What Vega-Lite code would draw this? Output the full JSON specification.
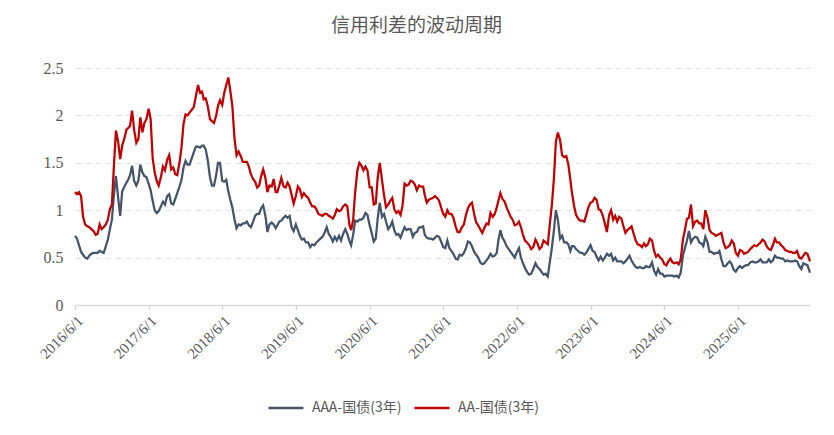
{
  "$schema": "https://vega.github.io/schema/vega-lite/v6.json",
  "width": 735,
  "height": 237,
  "autosize": {"type": "none"},
  "padding": {"left": 75, "top": 68, "right": 24, "bottom": 130},
  "background": "white",
  "title": {"text": "信用利差的波动周期", "font": "Noto Sans CJK SC", "fontSize": 19, "fontWeight": "normal", "color": "#595959", "anchor": "middle", "dx": -26, "offset": 24},
  "data": {
    "format": {"parse": {"d": "date:'%Y-%m-%d'"}},
    "values": [
      {"d":"2016-06-01","AAA":0.73,"AA":1.19},{"d":"2016-06-11","AAA":0.70,"AA":1.17},{"d":"2016-06-21","AAA":0.63,"AA":1.19},
      {"d":"2016-07-01","AAA":0.56,"AA":1.15},{"d":"2016-07-11","AAA":0.53,"AA":0.93},{"d":"2016-07-21","AAA":0.50,"AA":0.85},
      {"d":"2016-08-01","AAA":0.49,"AA":0.83},{"d":"2016-08-11","AAA":0.52,"AA":0.82},{"d":"2016-08-21","AAA":0.54,"AA":0.80},
      {"d":"2016-09-01","AAA":0.55,"AA":0.78},{"d":"2016-09-11","AAA":0.55,"AA":0.74},{"d":"2016-09-21","AAA":0.55,"AA":0.75},
      {"d":"2016-10-01","AAA":0.57,"AA":0.85},{"d":"2016-10-11","AAA":0.56,"AA":0.80},{"d":"2016-10-21","AAA":0.55,"AA":0.82},
      {"d":"2016-11-01","AAA":0.62,"AA":0.85},{"d":"2016-11-11","AAA":0.69,"AA":0.90},{"d":"2016-11-21","AAA":0.80,"AA":1.01},
      {"d":"2016-12-01","AAA":0.90,"AA":1.06},{"d":"2016-12-11","AAA":1.16,"AA":1.47},{"d":"2016-12-21","AAA":1.36,"AA":1.84},
      {"d":"2017-01-01","AAA":1.13,"AA":1.72},{"d":"2017-01-11","AAA":0.94,"AA":1.54},{"d":"2017-01-21","AAA":1.20,"AA":1.68},
      {"d":"2017-02-01","AAA":1.25,"AA":1.76},{"d":"2017-02-11","AAA":1.29,"AA":1.85},{"d":"2017-02-21","AAA":1.33,"AA":1.87},
      {"d":"2017-03-01","AAA":1.37,"AA":1.89},{"d":"2017-03-11","AAA":1.47,"AA":2.05},{"d":"2017-03-21","AAA":1.31,"AA":1.85},
      {"d":"2017-04-01","AAA":1.26,"AA":1.71},{"d":"2017-04-11","AAA":1.31,"AA":1.75},{"d":"2017-04-21","AAA":1.48,"AA":1.98},
      {"d":"2017-05-01","AAA":1.40,"AA":1.82},{"d":"2017-05-11","AAA":1.36,"AA":1.92},{"d":"2017-05-21","AAA":1.35,"AA":1.96},
      {"d":"2017-06-01","AAA":1.28,"AA":2.07},{"d":"2017-06-11","AAA":1.21,"AA":1.96},{"d":"2017-06-21","AAA":1.10,"AA":1.55},
      {"d":"2017-07-01","AAA":1.00,"AA":1.40},{"d":"2017-07-11","AAA":0.97,"AA":1.31},{"d":"2017-07-21","AAA":0.99,"AA":1.26},
      {"d":"2017-08-01","AAA":1.04,"AA":1.35},{"d":"2017-08-11","AAA":1.09,"AA":1.46},{"d":"2017-08-21","AAA":1.06,"AA":1.42},
      {"d":"2017-09-01","AAA":1.15,"AA":1.53},{"d":"2017-09-11","AAA":1.17,"AA":1.58},{"d":"2017-09-21","AAA":1.07,"AA":1.43},
      {"d":"2017-10-01","AAA":1.06,"AA":1.45},{"d":"2017-10-11","AAA":1.12,"AA":1.38},{"d":"2017-10-21","AAA":1.18,"AA":1.37},
      {"d":"2017-11-01","AAA":1.25,"AA":1.50},{"d":"2017-11-11","AAA":1.32,"AA":1.66},{"d":"2017-11-21","AAA":1.45,"AA":1.91},
      {"d":"2017-12-01","AAA":1.52,"AA":2.01},{"d":"2017-12-11","AAA":1.48,"AA":2.00},{"d":"2017-12-21","AAA":1.48,"AA":2.03},
      {"d":"2018-01-01","AAA":1.55,"AA":2.06},{"d":"2018-01-11","AAA":1.61,"AA":2.09},{"d":"2018-01-21","AAA":1.67,"AA":2.20},
      {"d":"2018-02-01","AAA":1.67,"AA":2.32},{"d":"2018-02-11","AAA":1.66,"AA":2.24},{"d":"2018-02-21","AAA":1.68,"AA":2.25},
      {"d":"2018-03-01","AAA":1.68,"AA":2.17},{"d":"2018-03-11","AAA":1.64,"AA":2.18},{"d":"2018-03-21","AAA":1.53,"AA":2.10},
      {"d":"2018-04-01","AAA":1.35,"AA":1.96},{"d":"2018-04-11","AAA":1.26,"AA":1.94},{"d":"2018-04-21","AAA":1.26,"AA":1.92},
      {"d":"2018-05-01","AAA":1.36,"AA":1.99},{"d":"2018-05-11","AAA":1.50,"AA":2.10},{"d":"2018-05-21","AAA":1.50,"AA":2.16},
      {"d":"2018-06-01","AAA":1.31,"AA":2.11},{"d":"2018-06-11","AAA":1.30,"AA":2.24},{"d":"2018-06-21","AAA":1.32,"AA":2.32},
      {"d":"2018-07-01","AAA":1.20,"AA":2.40},{"d":"2018-07-11","AAA":1.11,"AA":2.26},{"d":"2018-07-21","AAA":1.03,"AA":2.10},
      {"d":"2018-08-01","AAA":0.90,"AA":1.75},{"d":"2018-08-11","AAA":0.81,"AA":1.58},{"d":"2018-08-21","AAA":0.85,"AA":1.62},
      {"d":"2018-09-01","AAA":0.84,"AA":1.57},{"d":"2018-09-11","AAA":0.86,"AA":1.51},{"d":"2018-09-21","AAA":0.86,"AA":1.51},
      {"d":"2018-10-01","AAA":0.88,"AA":1.51},{"d":"2018-10-11","AAA":0.84,"AA":1.46},{"d":"2018-10-21","AAA":0.82,"AA":1.38},
      {"d":"2018-11-01","AAA":0.88,"AA":1.33},{"d":"2018-11-11","AAA":0.94,"AA":1.30},{"d":"2018-11-21","AAA":0.96,"AA":1.24},
      {"d":"2018-12-01","AAA":0.96,"AA":1.26},{"d":"2018-12-11","AAA":1.02,"AA":1.36},{"d":"2018-12-21","AAA":1.05,"AA":1.43},
      {"d":"2019-01-01","AAA":0.94,"AA":1.34},{"d":"2019-01-11","AAA":0.77,"AA":1.19},{"d":"2019-01-21","AAA":0.85,"AA":1.26},
      {"d":"2019-02-01","AAA":0.87,"AA":1.25},{"d":"2019-02-11","AAA":0.85,"AA":1.33},{"d":"2019-02-21","AAA":0.81,"AA":1.19},
      {"d":"2019-03-01","AAA":0.84,"AA":1.19},{"d":"2019-03-11","AAA":0.88,"AA":1.26},{"d":"2019-03-21","AAA":0.89,"AA":1.34},
      {"d":"2019-04-01","AAA":0.92,"AA":1.25},{"d":"2019-04-11","AAA":0.94,"AA":1.24},{"d":"2019-04-21","AAA":0.92,"AA":1.29},
      {"d":"2019-05-01","AAA":0.94,"AA":1.25},{"d":"2019-05-11","AAA":0.82,"AA":1.16},{"d":"2019-05-21","AAA":0.78,"AA":1.07},
      {"d":"2019-06-01","AAA":0.85,"AA":1.15},{"d":"2019-06-11","AAA":0.79,"AA":1.25},{"d":"2019-06-21","AAA":0.73,"AA":1.22},
      {"d":"2019-07-01","AAA":0.69,"AA":1.14},{"d":"2019-07-11","AAA":0.70,"AA":1.18},{"d":"2019-07-21","AAA":0.66,"AA":1.15},
      {"d":"2019-08-01","AAA":0.66,"AA":1.13},{"d":"2019-08-11","AAA":0.61,"AA":1.08},{"d":"2019-08-21","AAA":0.64,"AA":1.04},
      {"d":"2019-09-01","AAA":0.63,"AA":1.04},{"d":"2019-09-11","AAA":0.66,"AA":1.01},{"d":"2019-09-21","AAA":0.68,"AA":0.96},
      {"d":"2019-10-01","AAA":0.70,"AA":0.95},{"d":"2019-10-11","AAA":0.72,"AA":0.94},{"d":"2019-10-21","AAA":0.76,"AA":0.96},
      {"d":"2019-11-01","AAA":0.82,"AA":0.96},{"d":"2019-11-11","AAA":0.75,"AA":0.94},{"d":"2019-11-21","AAA":0.72,"AA":0.93},
      {"d":"2019-12-01","AAA":0.67,"AA":0.91},{"d":"2019-12-11","AAA":0.72,"AA":0.95},{"d":"2019-12-21","AAA":0.68,"AA":1.01},
      {"d":"2020-01-01","AAA":0.73,"AA":0.99},{"d":"2020-01-11","AAA":0.68,"AA":1.00},{"d":"2020-01-21","AAA":0.75,"AA":1.04},
      {"d":"2020-02-01","AAA":0.80,"AA":1.06},{"d":"2020-02-11","AAA":0.75,"AA":1.04},{"d":"2020-02-21","AAA":0.68,"AA":0.85},
      {"d":"2020-03-01","AAA":0.63,"AA":0.79},{"d":"2020-03-11","AAA":0.74,"AA":0.90},{"d":"2020-03-21","AAA":0.89,"AA":1.19},
      {"d":"2020-04-01","AAA":0.88,"AA":1.42},{"d":"2020-04-11","AAA":0.90,"AA":1.50},{"d":"2020-04-21","AAA":0.90,"AA":1.47},
      {"d":"2020-05-01","AAA":0.92,"AA":1.42},{"d":"2020-05-11","AAA":0.97,"AA":1.46},{"d":"2020-05-21","AAA":0.95,"AA":1.42},
      {"d":"2020-06-01","AAA":0.84,"AA":1.24},{"d":"2020-06-11","AAA":0.76,"AA":1.24},{"d":"2020-06-21","AAA":0.67,"AA":1.06},
      {"d":"2020-07-01","AAA":0.70,"AA":1.07},{"d":"2020-07-11","AAA":0.92,"AA":1.35},{"d":"2020-07-21","AAA":1.08,"AA":1.50},
      {"d":"2020-08-01","AAA":0.93,"AA":1.32},{"d":"2020-08-11","AAA":0.96,"AA":1.16},{"d":"2020-08-21","AAA":0.88,"AA":1.03},
      {"d":"2020-09-01","AAA":0.80,"AA":1.06},{"d":"2020-09-11","AAA":0.83,"AA":1.10},{"d":"2020-09-21","AAA":0.88,"AA":1.13},
      {"d":"2020-10-01","AAA":0.79,"AA":1.01},{"d":"2020-10-11","AAA":0.74,"AA":0.97},{"d":"2020-10-21","AAA":0.75,"AA":0.99},
      {"d":"2020-11-01","AAA":0.71,"AA":0.95},{"d":"2020-11-11","AAA":0.77,"AA":1.05},{"d":"2020-11-21","AAA":0.82,"AA":1.28},
      {"d":"2020-12-01","AAA":0.79,"AA":1.26},{"d":"2020-12-11","AAA":0.80,"AA":1.27},{"d":"2020-12-21","AAA":0.80,"AA":1.31},
      {"d":"2021-01-01","AAA":0.72,"AA":1.30},{"d":"2021-01-11","AAA":0.76,"AA":1.27},{"d":"2021-01-21","AAA":0.77,"AA":1.21},
      {"d":"2021-02-01","AAA":0.82,"AA":1.26},{"d":"2021-02-11","AAA":0.82,"AA":1.25},{"d":"2021-02-21","AAA":0.83,"AA":1.25},
      {"d":"2021-03-01","AAA":0.74,"AA":1.16},{"d":"2021-03-11","AAA":0.71,"AA":1.08},{"d":"2021-03-21","AAA":0.70,"AA":1.11},
      {"d":"2021-04-01","AAA":0.70,"AA":1.12},{"d":"2021-04-11","AAA":0.69,"AA":1.13},{"d":"2021-04-21","AAA":0.71,"AA":1.15},
      {"d":"2021-05-01","AAA":0.73,"AA":1.13},{"d":"2021-05-11","AAA":0.72,"AA":1.10},{"d":"2021-05-21","AAA":0.67,"AA":1.03},
      {"d":"2021-06-01","AAA":0.61,"AA":0.96},{"d":"2021-06-11","AAA":0.60,"AA":0.93},{"d":"2021-06-21","AAA":0.68,"AA":1.00},
      {"d":"2021-07-01","AAA":0.60,"AA":0.96},{"d":"2021-07-11","AAA":0.57,"AA":0.96},{"d":"2021-07-21","AAA":0.54,"AA":0.92},
      {"d":"2021-08-01","AAA":0.49,"AA":0.83},{"d":"2021-08-11","AAA":0.48,"AA":0.77},{"d":"2021-08-21","AAA":0.53,"AA":0.77},
      {"d":"2021-09-01","AAA":0.52,"AA":0.82},{"d":"2021-09-11","AAA":0.55,"AA":0.85},{"d":"2021-09-21","AAA":0.60,"AA":0.95},
      {"d":"2021-10-01","AAA":0.67,"AA":1.02},{"d":"2021-10-11","AAA":0.66,"AA":1.06},{"d":"2021-10-21","AAA":0.62,"AA":1.08},
      {"d":"2021-11-01","AAA":0.56,"AA":0.96},{"d":"2021-11-11","AAA":0.53,"AA":0.87},{"d":"2021-11-21","AAA":0.50,"AA":0.84},
      {"d":"2021-12-01","AAA":0.45,"AA":0.80},{"d":"2021-12-11","AAA":0.43,"AA":0.76},{"d":"2021-12-21","AAA":0.44,"AA":0.81},
      {"d":"2022-01-01","AAA":0.47,"AA":0.86},{"d":"2022-01-11","AAA":0.50,"AA":0.85},{"d":"2022-01-21","AAA":0.54,"AA":0.97},
      {"d":"2022-02-01","AAA":0.51,"AA":0.93},{"d":"2022-02-11","AAA":0.52,"AA":0.96},{"d":"2022-02-21","AAA":0.55,"AA":1.03},
      {"d":"2022-03-01","AAA":0.68,"AA":1.10},{"d":"2022-03-11","AAA":0.79,"AA":1.18},{"d":"2022-03-21","AAA":0.71,"AA":1.12},
      {"d":"2022-04-01","AAA":0.67,"AA":1.09},{"d":"2022-04-11","AAA":0.62,"AA":1.03},{"d":"2022-04-21","AAA":0.59,"AA":0.98},
      {"d":"2022-05-01","AAA":0.56,"AA":0.93},{"d":"2022-05-11","AAA":0.53,"AA":0.90},{"d":"2022-05-21","AAA":0.50,"AA":0.84},
      {"d":"2022-06-01","AAA":0.56,"AA":0.85},{"d":"2022-06-11","AAA":0.60,"AA":0.88},{"d":"2022-06-21","AAA":0.50,"AA":0.82},
      {"d":"2022-07-01","AAA":0.44,"AA":0.74},{"d":"2022-07-11","AAA":0.39,"AA":0.68},{"d":"2022-07-21","AAA":0.35,"AA":0.66},
      {"d":"2022-08-01","AAA":0.32,"AA":0.63},{"d":"2022-08-11","AAA":0.33,"AA":0.59},{"d":"2022-08-21","AAA":0.38,"AA":0.61},
      {"d":"2022-09-01","AAA":0.44,"AA":0.69},{"d":"2022-09-11","AAA":0.40,"AA":0.65},{"d":"2022-09-21","AAA":0.38,"AA":0.59},
      {"d":"2022-10-01","AAA":0.35,"AA":0.61},{"d":"2022-10-11","AAA":0.32,"AA":0.68},{"d":"2022-10-21","AAA":0.33,"AA":0.66},
      {"d":"2022-11-01","AAA":0.30,"AA":0.64},{"d":"2022-11-11","AAA":0.45,"AA":0.85},{"d":"2022-11-21","AAA":0.60,"AA":1.05},
      {"d":"2022-12-01","AAA":0.78,"AA":1.32},{"d":"2022-12-11","AAA":1.00,"AA":1.72},{"d":"2022-12-21","AAA":0.90,"AA":1.82},
      {"d":"2023-01-01","AAA":0.70,"AA":1.74},{"d":"2023-01-11","AAA":0.73,"AA":1.58},{"d":"2023-01-21","AAA":0.66,"AA":1.56},
      {"d":"2023-02-01","AAA":0.66,"AA":1.57},{"d":"2023-02-11","AAA":0.64,"AA":1.48},{"d":"2023-02-21","AAA":0.57,"AA":1.32},
      {"d":"2023-03-01","AAA":0.62,"AA":1.18},{"d":"2023-03-11","AAA":0.62,"AA":1.05},{"d":"2023-03-21","AAA":0.59,"AA":0.95},
      {"d":"2023-04-01","AAA":0.57,"AA":0.91},{"d":"2023-04-11","AAA":0.55,"AA":0.89},{"d":"2023-04-21","AAA":0.55,"AA":0.89},
      {"d":"2023-05-01","AAA":0.53,"AA":0.88},{"d":"2023-05-11","AAA":0.55,"AA":0.95},{"d":"2023-05-21","AAA":0.59,"AA":1.03},
      {"d":"2023-06-01","AAA":0.63,"AA":1.08},{"d":"2023-06-11","AAA":0.57,"AA":1.09},{"d":"2023-06-21","AAA":0.56,"AA":1.13},
      {"d":"2023-07-01","AAA":0.51,"AA":1.11},{"d":"2023-07-11","AAA":0.47,"AA":1.01},{"d":"2023-07-21","AAA":0.51,"AA":1.00},
      {"d":"2023-08-01","AAA":0.47,"AA":0.94},{"d":"2023-08-11","AAA":0.50,"AA":0.86},{"d":"2023-08-21","AAA":0.54,"AA":0.77},
      {"d":"2023-09-01","AAA":0.52,"AA":0.95},{"d":"2023-09-11","AAA":0.54,"AA":1.00},{"d":"2023-09-21","AAA":0.47,"AA":0.90},
      {"d":"2023-10-01","AAA":0.50,"AA":0.94},{"d":"2023-10-11","AAA":0.46,"AA":0.88},{"d":"2023-10-21","AAA":0.46,"AA":0.93},
      {"d":"2023-11-01","AAA":0.46,"AA":0.91},{"d":"2023-11-11","AAA":0.44,"AA":0.83},{"d":"2023-11-21","AAA":0.46,"AA":0.76},
      {"d":"2023-12-01","AAA":0.49,"AA":0.79},{"d":"2023-12-11","AAA":0.52,"AA":0.81},{"d":"2023-12-21","AAA":0.47,"AA":0.83},
      {"d":"2024-01-01","AAA":0.43,"AA":0.75},{"d":"2024-01-11","AAA":0.40,"AA":0.68},{"d":"2024-01-21","AAA":0.39,"AA":0.64},
      {"d":"2024-02-01","AAA":0.40,"AA":0.63},{"d":"2024-02-11","AAA":0.39,"AA":0.61},{"d":"2024-02-21","AAA":0.39,"AA":0.65},
      {"d":"2024-03-01","AAA":0.41,"AA":0.62},{"d":"2024-03-11","AAA":0.40,"AA":0.64},{"d":"2024-03-21","AAA":0.40,"AA":0.70},
      {"d":"2024-04-01","AAA":0.45,"AA":0.68},{"d":"2024-04-11","AAA":0.36,"AA":0.57},{"d":"2024-04-21","AAA":0.32,"AA":0.51},
      {"d":"2024-05-01","AAA":0.38,"AA":0.53},{"d":"2024-05-11","AAA":0.33,"AA":0.50},{"d":"2024-05-21","AAA":0.33,"AA":0.48},
      {"d":"2024-06-01","AAA":0.30,"AA":0.43},{"d":"2024-06-11","AAA":0.31,"AA":0.42},{"d":"2024-06-21","AAA":0.31,"AA":0.46},
      {"d":"2024-07-01","AAA":0.31,"AA":0.49},{"d":"2024-07-11","AAA":0.31,"AA":0.45},{"d":"2024-07-21","AAA":0.30,"AA":0.44},
      {"d":"2024-08-01","AAA":0.31,"AA":0.45},{"d":"2024-08-11","AAA":0.29,"AA":0.43},{"d":"2024-08-21","AAA":0.34,"AA":0.48},
      {"d":"2024-09-01","AAA":0.52,"AA":0.69},{"d":"2024-09-11","AAA":0.60,"AA":0.79},{"d":"2024-09-21","AAA":0.68,"AA":0.91},
      {"d":"2024-10-01","AAA":0.78,"AA":0.92},{"d":"2024-10-11","AAA":0.66,"AA":1.06},{"d":"2024-10-21","AAA":0.70,"AA":0.83},
      {"d":"2024-11-01","AAA":0.72,"AA":0.88},{"d":"2024-11-11","AAA":0.71,"AA":0.89},{"d":"2024-11-21","AAA":0.66,"AA":0.86},
      {"d":"2024-12-01","AAA":0.65,"AA":0.86},{"d":"2024-12-11","AAA":0.62,"AA":0.80},{"d":"2024-12-21","AAA":0.72,"AA":1.00},
      {"d":"2025-01-01","AAA":0.66,"AA":0.92},{"d":"2025-01-11","AAA":0.56,"AA":0.79},{"d":"2025-01-21","AAA":0.56,"AA":0.76},
      {"d":"2025-02-01","AAA":0.54,"AA":0.75},{"d":"2025-02-11","AAA":0.55,"AA":0.73},{"d":"2025-02-21","AAA":0.55,"AA":0.74},
      {"d":"2025-03-01","AAA":0.57,"AA":0.75},{"d":"2025-03-11","AAA":0.48,"AA":0.76},{"d":"2025-03-21","AAA":0.41,"AA":0.66},
      {"d":"2025-04-01","AAA":0.41,"AA":0.60},{"d":"2025-04-11","AAA":0.44,"AA":0.61},{"d":"2025-04-21","AAA":0.46,"AA":0.63},
      {"d":"2025-05-01","AAA":0.43,"AA":0.68},{"d":"2025-05-11","AAA":0.37,"AA":0.65},{"d":"2025-05-21","AAA":0.35,"AA":0.55},
      {"d":"2025-06-01","AAA":0.39,"AA":0.52},{"d":"2025-06-11","AAA":0.41,"AA":0.58},{"d":"2025-06-21","AAA":0.39,"AA":0.57},
      {"d":"2025-07-01","AAA":0.41,"AA":0.54},{"d":"2025-07-11","AAA":0.42,"AA":0.55},{"d":"2025-07-21","AAA":0.42,"AA":0.56},
      {"d":"2025-08-01","AAA":0.45,"AA":0.59},{"d":"2025-08-11","AAA":0.46,"AA":0.61},{"d":"2025-08-21","AAA":0.45,"AA":0.63},
      {"d":"2025-09-01","AAA":0.45,"AA":0.62},{"d":"2025-09-11","AAA":0.46,"AA":0.64},{"d":"2025-09-21","AAA":0.48,"AA":0.66},
      {"d":"2025-10-01","AAA":0.45,"AA":0.69},{"d":"2025-10-11","AAA":0.45,"AA":0.67},{"d":"2025-10-21","AAA":0.45,"AA":0.62},
      {"d":"2025-11-01","AAA":0.48,"AA":0.59},{"d":"2025-11-11","AAA":0.45,"AA":0.58},{"d":"2025-11-21","AAA":0.47,"AA":0.63},
      {"d":"2025-12-01","AAA":0.52,"AA":0.70},{"d":"2025-12-11","AAA":0.50,"AA":0.66},{"d":"2025-12-21","AAA":0.50,"AA":0.66},
      {"d":"2026-01-01","AAA":0.49,"AA":0.63},{"d":"2026-01-11","AAA":0.49,"AA":0.61},{"d":"2026-01-21","AAA":0.46,"AA":0.58},
      {"d":"2026-02-01","AAA":0.47,"AA":0.57},{"d":"2026-02-11","AAA":0.46,"AA":0.56},{"d":"2026-02-21","AAA":0.46,"AA":0.56},
      {"d":"2026-03-01","AAA":0.46,"AA":0.55},{"d":"2026-03-11","AAA":0.47,"AA":0.55},{"d":"2026-03-21","AAA":0.46,"AA":0.57},
      {"d":"2026-04-01","AAA":0.41,"AA":0.50},{"d":"2026-04-11","AAA":0.38,"AA":0.49},{"d":"2026-04-21","AAA":0.44,"AA":0.52},
      {"d":"2026-05-01","AAA":0.43,"AA":0.55},{"d":"2026-05-11","AAA":0.42,"AA":0.54},{"d":"2026-05-21","AAA":0.36,"AA":0.48},
      {"d":"2026-05-24","AAA":0.34,"AA":0.46}
    ]
  },
  "transform": [{"fold": ["AAA", "AA"], "as": ["series", "value"]}],
  "mark": {"type": "line", "strokeWidth": 2.25},
  "encoding": {
    "x": {
      "field": "d",
      "type": "temporal",
      "scale": {"domain": [{"year": 2016, "month": 6, "date": 1}, {"year": 2026, "month": 5, "date": 24}], "nice": false},
      "axis": {
        "values": [
          {"year": 2016, "month": 6, "date": 1}, {"year": 2017, "month": 6, "date": 1}, {"year": 2018, "month": 6, "date": 1},
          {"year": 2019, "month": 6, "date": 1}, {"year": 2020, "month": 6, "date": 1}, {"year": 2021, "month": 6, "date": 1},
          {"year": 2022, "month": 6, "date": 1}, {"year": 2023, "month": 6, "date": 1}, {"year": 2024, "month": 6, "date": 1},
          {"year": 2025, "month": 6, "date": 1}
        ],
        "format": "%Y/%-m/%-d",
        "labelAngle": -45,
        "title": null,
        "grid": false,
        "domainColor": "#D9D9D9",
        "domainWidth": 1.5,
        "tickColor": "#D9D9D9",
        "tickSize": 5,
        "tickWidth": 1.5,
        "labelFont": "serif",
        "labelFontSize": 15,
        "labelColor": "#595959",
        "labelPadding": 3
      }
    },
    "y": {
      "field": "value",
      "type": "quantitative",
      "scale": {"domain": [0, 2.5], "nice": false},
      "axis": {
        "values": [0, 0.5, 1, 1.5, 2, 2.5],
        "format": "~g",
        "title": null,
        "domain": false,
        "ticks": false,
        "gridDash": [6, 4],
        "gridColor": "#E3E3E3",
        "gridWidth": 1,
        "labelFont": "serif",
        "labelFontSize": 16,
        "labelColor": "#595959",
        "labelPadding": 12
      }
    },
    "color": {
      "field": "series",
      "type": "nominal",
      "scale": {"domain": ["AAA", "AA"], "range": ["#44546A", "#C00000"]},
      "legend": {
        "orient": "none",
        "legendX": 192,
        "legendY": 321,
        "direction": "horizontal",
        "title": null,
        "symbolType": "stroke",
        "symbolSize": 1225,
        "symbolStrokeWidth": 2.5,
        "labelFont": "Noto Sans CJK SC",
        "labelFontSize": 14,
        "labelColor": "#595959",
        "labelOffset": 7,
        "columnPadding": 7,
        "labelExpr": "datum.label == 'AAA' ? 'AAA-国债(3年)' : 'AA-国债(3年)'"
      }
    }
  },
  "config": {"view": {"stroke": null}}
}
